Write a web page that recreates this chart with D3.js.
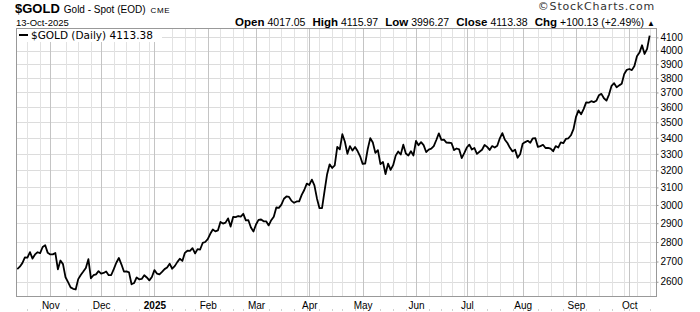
<!DOCTYPE html>
<html lang="en">
<head>
<meta charset="UTF-8"/>
<title>$GOLD Gold - Spot (EOD)</title>
<script src="https://d3js.org/d3.v7.min.js"></script>
<style>
  body { margin: 0; background: #fff; }
  svg { display: block; font-family: "Liberation Sans", Arial, sans-serif; }
</style>
</head>
<body>
<script>
var w = 700, h = 312;

// trading calendar: weekdays from start to end, minus market holidays
var startDate = "2024-10-15";
var endDate = "2025-10-13";
var holidays = ["2024-11-28", "2024-12-25", "2025-01-01", "2025-01-20", "2025-02-17",
                "2025-04-18", "2025-05-26", "2025-06-19", "2025-07-04", "2025-09-01"];

// daily closes, one line per month
var closes = [
  2662, 2674, 2692, 2721, 2720, 2748, 2715, 2736, 2747, 2743, 2774, 2783, 2744,
  2736, 2736, 2743, 2661, 2705, 2687, 2622, 2598, 2573, 2566, 2563, 2613, 2633, 2650, 2668, 2712, 2617, 2632, 2636, 2652,
  2640, 2643, 2650, 2632, 2633, 2662, 2694, 2718, 2686, 2650, 2651, 2646, 2588, 2594, 2621, 2612, 2614, 2632, 2621, 2607, 2623,
  2657, 2640, 2636, 2648, 2662, 2670, 2689, 2664, 2677, 2697, 2714, 2703, 2744, 2755, 2754, 2768, 2741, 2763, 2761, 2795, 2800,
  2815, 2843, 2866, 2856, 2861, 2907, 2898, 2903, 2926, 2882, 2934, 2933, 2939, 2936, 2951, 2915, 2916, 2877, 2855,
  2893, 2918, 2920, 2910, 2910, 2888, 2916, 2935, 2986, 2984, 3002, 3035, 3048, 3045, 3023, 3012, 3020, 3020, 3057, 3085, 3122,
  3114, 3145, 3112, 3037, 2982, 2982, 3080, 3177, 3236, 3214, 3230, 3343, 3328, 3423, 3375, 3300, 3348, 3320, 3342, 3317, 3285,
  3239, 3241, 3330, 3398, 3370, 3306, 3323, 3237, 3250, 3178, 3240, 3203, 3231, 3289, 3314, 3296, 3357, 3302, 3290, 3316, 3290,
  3380, 3353, 3373, 3354, 3311, 3326, 3332, 3348, 3386, 3428, 3387, 3388, 3370, 3369, 3366, 3323, 3333, 3327, 3274, 3304,
  3339, 3357, 3327, 3336, 3300, 3313, 3325, 3355, 3343, 3324, 3348, 3339, 3350, 3397, 3430, 3388, 3367, 3337, 3315, 3326, 3276, 3297,
  3363, 3373, 3381, 3369, 3397, 3398, 3343, 3348, 3356, 3336, 3337, 3332, 3316, 3348, 3339, 3371, 3366, 3393, 3397, 3416, 3455,
  3535, 3578, 3552, 3587, 3632, 3630, 3640, 3634, 3643, 3680, 3690, 3660, 3644, 3685, 3746, 3764, 3736, 3749, 3760, 3830, 3859,
  3865, 3857, 3887, 3958, 3985, 4040, 3975, 4013.25, 4113.38
];

var monthLabels = ["Nov", "Dec", "2025", "Feb", "Mar", "Apr", "May", "Jun", "Jul", "Aug", "Sep", "Oct"];
var yTicks = [2600, 2700, 2800, 2900, 3000, 3100, 3200, 3300, 3400, 3500, 3600, 3700, 3800, 3900, 4000, 4100];

var parse = d3.timeParse("%Y-%m-%d");
var fmt = d3.timeFormat("%Y-%m-%d");
var dates = d3.timeDay.range(parse(startDate), d3.timeDay.offset(parse(endDate), 1))
  .filter(function(d) {
    return d.getDay() > 0 && d.getDay() < 6 && holidays.indexOf(fmt(d)) < 0;
  });

var plotL = 16, plotR = 656, plotT = 28, plotB = 296;

var x = d3.scaleLinear()
  .domain([-0.5, dates.length + 1.5])
  .range([plotL, plotR]);

var y = d3.scaleLog()
  .domain([2532, 4172])
  .range([plotB, plotT]);

// month and week boundaries
var monthIdx = [], weekIdx = [];
var lastMonth = -99;
dates.forEach(function(d, i) {
  if (i == 0) return;
  var p = dates[i - 1];
  if (d.getMonth() != p.getMonth()) {
    monthIdx.push(i);
    lastMonth = i;
  } else if (d.getDay() < p.getDay() && i - lastMonth > 2) {
    weekIdx.push(i);
  }
});

var svg = d3.select("body").append("svg")
  .attr("width", w)
  .attr("height", h);

// grid
var grid = svg.append("g").attr("shape-rendering", "crispEdges");
grid.selectAll(".hg")
  .data(yTicks)
  .enter().append("line")
  .attr("x1", plotL).attr("x2", plotR)
  .attr("y1", function(d) { return Math.round(y(d)) + 0.5; })
  .attr("y2", function(d) { return Math.round(y(d)) + 0.5; })
  .attr("stroke", "#dcdcdc");

grid.selectAll(".wg")
  .data(weekIdx)
  .enter().append("line")
  .attr("x1", function(d) { return Math.round(x(d)) + 0.5; })
  .attr("x2", function(d) { return Math.round(x(d)) + 0.5; })
  .attr("y1", plotT).attr("y2", plotB)
  .attr("stroke", "#e2e2e2");

grid.selectAll(".mg")
  .data(monthIdx)
  .enter().append("line")
  .attr("x1", function(d) { return Math.round(x(d)) + 0.5; })
  .attr("x2", function(d) { return Math.round(x(d)) + 0.5; })
  .attr("y1", plotT).attr("y2", plotB)
  .attr("stroke", "#c4c4c4");

// top of the next panel peeks in below the labels
grid.selectAll(".nx")
  .data(weekIdx.concat(monthIdx))
  .enter().append("line")
  .attr("x1", function(d) { return Math.round(x(d)) + 0.5; })
  .attr("x2", function(d) { return Math.round(x(d)) + 0.5; })
  .attr("y1", 309).attr("y2", 311)
  .attr("stroke", "#d0d0d0");

// price line
var line = d3.line()
  .x(function(d, i) { return x(i); })
  .y(function(d) { return y(d); });

svg.append("path")
  .datum(closes)
  .attr("d", line)
  .attr("fill", "none")
  .attr("stroke", "#000")
  .attr("stroke-width", 1.8)
  .attr("stroke-linejoin", "round");

// frame
svg.append("rect")
  .attr("x", plotL + 0.5).attr("y", plotT + 0.5)
  .attr("width", plotR - plotL).attr("height", plotB - plotT)
  .attr("fill", "none")
  .attr("stroke", "#999")
  .attr("shape-rendering", "crispEdges");

// right axis
var yAxis = svg.append("g")
  .attr("transform", "translate(" + (plotR + 0.5) + ",0)")
  .call(d3.axisRight(y).tickValues(yTicks).tickSize(2).tickPadding(2).tickFormat(d3.format("d")));
yAxis.select(".domain").remove();
yAxis.selectAll("line").attr("stroke", "#999");
yAxis.selectAll("text").attr("font-size", 10).attr("fill", "#000")
  .attr("font-family", "Liberation Sans, Arial, sans-serif");

// bottom axis
var xAxis = svg.append("g")
  .attr("transform", "translate(0," + (plotB + 0.5) + ")")
  .call(d3.axisBottom(x).tickValues(monthIdx).tickSize(0).tickPadding(5)
    .tickFormat(function(d, i) { return monthLabels[i]; }));
xAxis.select(".domain").remove();
xAxis.selectAll("text").attr("font-size", 10).attr("fill", "#000")
  .attr("font-family", "Liberation Sans, Arial, sans-serif")
  .attr("font-weight", function(d, i) { return monthLabels[i] == "2025" ? "bold" : null; });

// legend
svg.append("rect")
  .attr("x", plotL + 1).attr("y", plotT + 1)
  .attr("width", 145).attr("height", 13)
  .attr("fill", "#fff");
svg.append("line")
  .attr("x1", 19).attr("x2", 28)
  .attr("y1", 35).attr("y2", 35)
  .attr("stroke", "#000").attr("stroke-width", 2);
svg.append("text")
  .attr("x", 31).attr("y", 39)
  .attr("font-family", "DejaVu Sans, Verdana, sans-serif")
  .attr("font-size", 10.5)
  .text("$GOLD (Daily) " + closes[closes.length - 1].toFixed(2));

// header
var head = svg.append("text").attr("x", 15).attr("y", 13);
head.append("tspan").attr("font-weight", "bold").attr("font-size", 13).text("$GOLD");
head.append("tspan").attr("dx", 4).attr("font-size", 10).text("Gold - Spot (EOD)");
head.append("tspan").attr("dx", 5).attr("font-size", 8).attr("letter-spacing", 0.6).text("CME");

svg.append("text")
  .attr("x", 16).attr("y", 26)
  .attr("font-size", 9.5)
  .text("13-Oct-2025");

svg.append("text")
  .attr("x", 655).attr("y", 10)
  .attr("text-anchor", "end")
  .attr("font-size", 11)
  .attr("letter-spacing", 0.8)
  .attr("fill", "#333")
  .attr("font-family", "DejaVu Sans, Verdana, sans-serif")
  .text("\u00a9StockCharts.com");

var stats = [["Open", "4017.05"], ["High", "4115.97"], ["Low", "3996.27"],
             ["Close", "4113.38"], ["Chg", "+100.13 (+2.49%)"]];
var st = svg.append("text").attr("x", 655).attr("y", 26).attr("text-anchor", "end");
stats.forEach(function(s, i) {
  st.append("tspan").attr("font-weight", "bold").attr("font-size", 11.5)
    .attr("dx", i ? 7 : 0).text(s[0]);
  st.append("tspan").attr("font-size", 10.5).attr("dx", 3).text(s[1]);
});
st.append("tspan").attr("font-size", 8).attr("dx", 3).text("\u25b2");
</script>
</body>
</html>
